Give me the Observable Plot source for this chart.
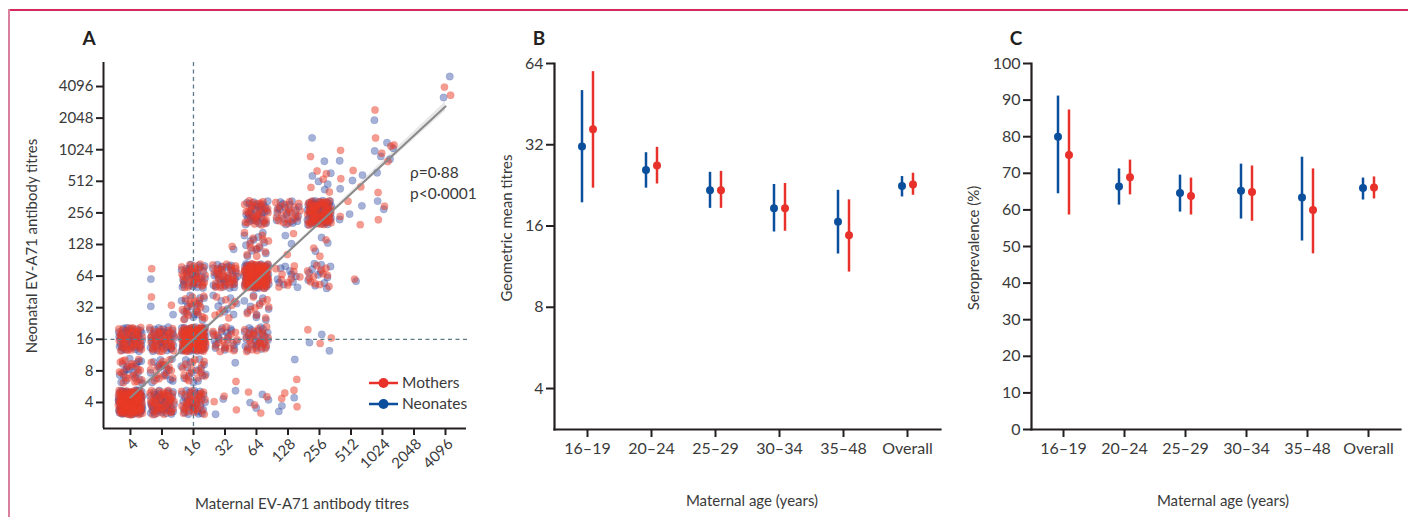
<!DOCTYPE html>
<html><head><meta charset="utf-8">
<script src="https://cdn.jsdelivr.net/npm/d3@7"></script>
<script src="https://cdn.jsdelivr.net/npm/@observablehq/plot@0.6"></script>
<style>
html,body{margin:0;padding:0;background:#fff;}
#wrap{position:relative;width:1408px;height:517px;overflow:hidden;font-family:Lato,"Open Sans",sans-serif;color:#3a3a3a;background:#fff;}
#borderTop{position:absolute;left:8px;top:9px;width:1400px;height:2px;background:#d42a5e;}
#borderLeft{position:absolute;left:8px;top:9px;width:2px;height:510px;background:#d9809e;}
.panel{position:absolute;top:0;}
.plabel{position:absolute;font-weight:bold;font-size:19px;color:#231f20;transform:translate(-50%,-50%);line-height:1;}
.ytitle{position:absolute;font-size:15px;white-space:nowrap;transform:translate(-50%,-50%) rotate(-90deg);line-height:1;}
.xtitle{position:absolute;font-size:15px;white-space:nowrap;transform:translate(-50%,-50%);line-height:1;}
.note{position:absolute;font-size:15.5px;white-space:nowrap;line-height:1;color:#3a3a3a;}
</style></head>
<body>
<div id="wrap">
  <div id="borderTop"></div><div id="borderLeft"></div>
  <div id="pA" class="panel" style="left:0px"></div>
  <div id="pB" class="panel" style="left:470px"></div>
  <div id="pC" class="panel" style="left:950px"></div>
  <div class="plabel" style="left:89px;top:37px">A</div>
  <div class="plabel" style="left:539px;top:37px">B</div>
  <div class="plabel" style="left:1016px;top:37px">C</div>
  <div class="ytitle" style="left:31px;top:246px">Neonatal EV-A71 antibody titres</div>
  <div class="xtitle" style="left:302px;top:503px">Maternal EV-A71 antibody titres</div>
  <div class="ytitle" style="left:506px;top:228px">Geometric mean titres</div>
  <div class="xtitle" style="left:752px;top:500px">Maternal age (years)</div>
  <div class="ytitle" style="left:973px;top:248px">Seroprevalence (%)</div>
  <div class="xtitle" style="left:1223px;top:500px">Maternal age (years)</div>
  <div class="note" style="left:410px;top:165px">ρ=0·88</div>
  <div class="note" style="left:410px;top:186px">p&lt;0·0001</div>
  <svg id="legend" style="position:absolute;left:360px;top:370px" width="110" height="46"></svg>
</div>
<script>
// ---------- Data ----------
const RED = "#e8312a";
const BLUE = "#0b4f9c";

// Panel A: jittered titre cells (maternal titre, neonatal titre, number of points per group)
const titreTicks = [4, 8, 16, 32, 64, 128, 256, 512, 1024, 2048, 4096];
const cellMaternal = [4, 4, 4, 8, 8, 8, 8, 8, 16, 16, 16, 16, 16, 32, 32, 32, 32, 32, 32, 64, 64, 64, 64, 64, 64, 128, 128, 128, 128, 128, 256, 256, 256, 256, 256, 256, 512, 512, 512, 512, 1024, 1024, 1024, 1024, 4096];
const cellNeonatal = [4, 8, 16, 4, 8, 16, 32, 64, 4, 8, 16, 32, 64, 4, 8, 16, 32, 64, 128, 4, 16, 32, 64, 128, 256, 4, 8, 64, 128, 256, 16, 64, 128, 256, 512, 1024, 64, 256, 512, 1024, 256, 512, 1024, 2048, 4096];
const cellMothers = [90, 20, 40, 40, 15, 35, 2, 1, 30, 15, 80, 18, 30, 3, 1, 18, 8, 30, 1, 4, 25, 10, 80, 12, 30, 4, 1, 10, 2, 20, 3, 12, 3, 60, 5, 1, 1, 3, 3, 1, 2, 1, 5, 1, 2];
const cellNeonates = [90, 20, 40, 40, 15, 35, 2, 1, 30, 15, 80, 18, 30, 3, 1, 18, 8, 30, 1, 4, 25, 10, 80, 12, 30, 3, 1, 10, 2, 20, 3, 12, 3, 60, 5, 2, 1, 3, 3, 1, 2, 1, 5, 1, 2];

// regression fit and its confidence band
const fitX = [4, 4096];
const fitY = [4.47, 2646];
const bandX = [4, 16, 64, 256, 1024, 4096];
const bandLo = [4.05, 15.3, 55.6, 199, 690, 2380];
const bandHi = [4.95, 16.7, 59.0, 213, 792, 2940];

// Panels B and C
const ageGroups = ["16–19", "20–24", "25–29", "30–34", "35–48", "Overall"];
const gmtNeonates   = [31.5, 25.8, 21.7, 18.6, 16.6, 22.5];
const gmtNeonatesLo = [19.5, 22.1, 18.6, 15.2, 12.6, 20.5];
const gmtNeonatesHi = [50.8, 29.9, 25.3, 22.8, 21.7, 24.4];
const gmtMothers    = [36.5, 26.8, 21.7, 18.6, 14.8, 22.8];
const gmtMothersLo  = [22.1, 22.9, 18.6, 15.3, 10.8, 20.8];
const gmtMothersHi  = [59.7, 31.3, 25.5, 23.0, 20.0, 25.1];
const gmtTicks = [4, 8, 16, 32, 64];

const seroNeonates   = [80.0, 66.4, 64.6, 65.2, 63.4, 66.0];
const seroNeonatesLo = [64.4, 61.3, 59.4, 57.5, 51.5, 62.7];
const seroNeonatesHi = [91.1, 71.2, 69.5, 72.5, 74.4, 68.7];
const seroMothers    = [75.0, 68.9, 63.8, 64.9, 60.0, 66.1];
const seroMothersLo  = [58.6, 64.1, 58.6, 56.9, 48.0, 63.0];
const seroMothersHi  = [87.3, 73.6, 68.7, 72.0, 71.2, 69.0];
const seroTicks = [0, 10, 20, 30, 40, 50, 60, 70, 80, 90, 100];

// ---------- helpers ----------
function halton(i, b) { let f = 1, r = 0; while (i > 0) { f /= b; r += f * (i % b); i = Math.floor(i / b); } return r; }
function jittered(counts, seed) {
  const pts = [];
  cellMaternal.forEach((m, c) => {
    for (let k = 0; k < counts[c]; k++) {
      const idx = k + 1 + c * 97 + seed;
      const dx = (halton(idx, 2) - 0.5) * 0.78;
      const dy = (halton(idx, 3) - 0.5) * 0.78;
      pts.push({x: m * Math.pow(2, dx), y: cellNeonatal[c] * Math.pow(2, dy)});
    }
  });
  return pts;
}
const neoPts = jittered(cellNeonates, 5000);
const momPts = jittered(cellMothers, 0);

const baseStyle = {fontFamily: "Lato, 'Open Sans', sans-serif", fontSize: "15px", color: "#3a3a3a", background: "transparent", overflow: "visible"};
const AX = "#231f20";

// ---------- Panel A ----------
const xMinA = 2.21, xMaxA = 6502, yMinA = 2.26, yMaxA = 6937;
const plotA = Plot.plot({
  width: 480, height: 517,
  marginLeft: 103, marginRight: 14, marginTop: 62, marginBottom: 89,
  x: {type: "log", base: 2, domain: [xMinA, xMaxA]},
  y: {type: "log", base: 2, domain: [yMinA, yMaxA]},
  style: baseStyle,
  marks: [
    Plot.areaY(bandX, {x: d => d, y1: (d, i) => bandLo[i], y2: (d, i) => bandHi[i], fill: "#d9d9d9", fillOpacity: 0.6}),
    Plot.dot(neoPts, {x: "x", y: "y", r: 3.7, fill: "#2846a0", fillOpacity: 0.42, stroke: "#2846a0", strokeOpacity: 0.25, strokeWidth: 0.6}),
    Plot.dot(momPts, {x: "x", y: "y", r: 3.7, fill: "#ea3a26", fillOpacity: 0.5, stroke: "#ea3a26", strokeOpacity: 0.2, strokeWidth: 0.6}),
    Plot.ruleX([16], {stroke: "#5c7a88", strokeWidth: 1.3, strokeDasharray: "4,3.5"}),
    Plot.ruleY([16], {stroke: "#5c7a88", strokeWidth: 1.3, strokeDasharray: "4,3.5", insetRight: -4}),
    Plot.line(fitX, {x: d => d, y: (d, i) => fitY[i], stroke: "#8a8a8a", strokeWidth: 2}),
    Plot.ruleX([xMinA], {stroke: AX, strokeWidth: 2}),
    Plot.ruleY([yMinA], {stroke: AX, strokeWidth: 2}),
    Plot.axisY({ticks: titreTicks, tickFormat: d => String(d), tickSize: 7, tickPadding: 3, stroke: AX, strokeWidth: 2, fill: "#3a3a3a", label: null}),
    Plot.axisX({ticks: titreTicks, tickFormat: () => "", tickSize: 7, stroke: AX, strokeWidth: 2, label: null}),
    Plot.axisX({ticks: titreTicks, tickFormat: d => String(d), tickSize: 0, tickPadding: 9, tickRotate: -45, dx: 5, dy: 4, fill: "#3a3a3a", label: null})
  ]
});
document.getElementById("pA").appendChild(plotA);

// ---------- Panels B and C ----------
function errPanel(opts) {
  const {width, mL, mR, y, ticks, neo, neoLo, neoHi, mom, momLo, momHi} = opts;
  return Plot.plot({
    width, height: 517,
    marginLeft: mL, marginRight: mR, marginTop: 63, marginBottom: 88,
    x: {type: "point", domain: ageGroups, padding: 0.5},
    y,
    style: Object.assign({}, baseStyle, {fontSize: "16px"}),
    marks: [
      Plot.ruleX(ageGroups, {x: d => d, y1: (d, i) => neoLo[i], y2: (d, i) => neoHi[i], dx: -5.5, stroke: BLUE, strokeWidth: 2.5}),
      Plot.ruleX(ageGroups, {x: d => d, y1: (d, i) => momLo[i], y2: (d, i) => momHi[i], dx: 5.5, stroke: RED, strokeWidth: 2.5}),
      Plot.dot(ageGroups, {x: d => d, y: (d, i) => neo[i], dx: -5.5, r: 4, fill: BLUE}),
      Plot.dot(ageGroups, {x: d => d, y: (d, i) => mom[i], dx: 5.5, r: 4, fill: RED}),
      Plot.frame({anchor: "left", stroke: AX, strokeWidth: 2.2}),
      Plot.frame({anchor: "bottom", stroke: AX, strokeWidth: 2.2}),
      Plot.axisY({ticks, tickFormat: d => String(d), tickSize: 8, tickPadding: 3, stroke: AX, strokeWidth: 2, fill: "#3a3a3a", label: null}),
      Plot.axisX({tickSize: 8, tickPadding: 5, stroke: AX, strokeWidth: 2, fill: "#3a3a3a", label: null})
    ]
  });
}
const plotB = errPanel({
  width: 480, mL: 84, mR: 10,
  y: {type: "log", base: 2, domain: [2.82, 64]}, ticks: gmtTicks,
  neo: gmtNeonates, neoLo: gmtNeonatesLo, neoHi: gmtNeonatesHi,
  mom: gmtMothers, momLo: gmtMothersLo, momHi: gmtMothersHi
});
document.getElementById("pB").appendChild(plotB);

const plotC = errPanel({
  width: 458, mL: 81, mR: 8,
  y: {type: "linear", domain: [0, 100]}, ticks: seroTicks,
  neo: seroNeonates, neoLo: seroNeonatesLo, neoHi: seroNeonatesHi,
  mom: seroMothers, momLo: seroMothersLo, momHi: seroMothersHi
});
document.getElementById("pC").appendChild(plotC);

// ---------- Legend (panel A) ----------
const legendItems = [{label: "Mothers", color: RED}, {label: "Neonates", color: BLUE}];
const lg = d3.select("#legend");
legendItems.forEach((d, i) => {
  const y = 13 + i * 21;
  lg.append("line").attr("x1", 9).attr("x2", 38).attr("y1", y).attr("y2", y).attr("stroke", d.color).attr("stroke-width", 2.5);
  lg.append("circle").attr("cx", 23.5).attr("cy", y).attr("r", 5).attr("fill", d.color);
  lg.append("text").attr("x", 42).attr("y", y).attr("dy", "0.35em").attr("font-size", 15.5).attr("fill", "#3a3a3a")
    .attr("font-family", "Lato, 'Open Sans', sans-serif").text(d.label);
});
</script>
</body></html>
